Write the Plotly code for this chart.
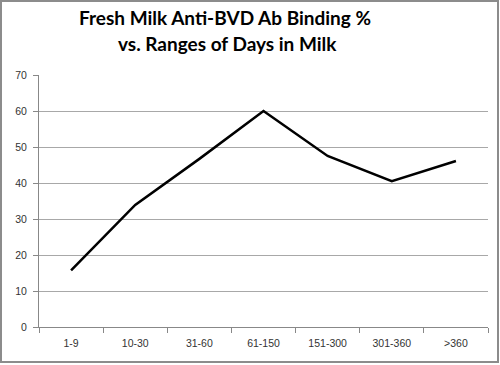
import plotly.graph_objects as go

categories = ["1-9", "10-30", "31-60", "61-150", "151-300", "301-360", ">360"]
binding_pct = [15.7, 33.9, 46.7, 60.0, 47.5, 40.5, 46.1]
title_lines = ["Fresh Milk Anti-BVD Ab Binding %", "vs. Ranges of Days in Milk"]

W, H = 500, 365
L, R, T, B = 39, 12, 75, 38
pw, ph = W - L - R, H - T - B

def px(x):
    return (x - L) / pw

def py(y):
    return (H - B - y) / ph

fig = go.Figure()
fig.add_trace(go.Scatter(
    x=categories, y=binding_pct, mode="lines",
    line=dict(color="black", width=2.5),
    showlegend=False, hoverinfo="skip",
))

fig.update_layout(
    width=W, height=H,
    margin=dict(l=L, r=R, t=T, b=B),
    paper_bgcolor="white", plot_bgcolor="white",
    font=dict(family="Liberation Sans", size=10.5, color="#333333"),
    xaxis=dict(
        type="category", range=[-0.5, 6.5],
        showgrid=False, showline=True, linecolor="#888888", linewidth=1,
        ticks="outside", ticklen=5, tickcolor="#888888", tickson="boundaries",
        ticklabelstandoff=6,
    ),
    yaxis=dict(
        range=[0, 70], dtick=10, showgrid=True, gridcolor="#a8a8a8", gridwidth=1,
        showline=True, linecolor="#888888", linewidth=1,
        ticks="outside", ticklen=5, tickcolor="#888888",
        zeroline=False, ticklabelstandoff=4,
    ),
    annotations=[
        dict(text="<b>" + title_lines[0] + "</b>", x=px(225), y=py(18), xref="paper", yref="paper",
             showarrow=False, xanchor="center", yanchor="middle",
             font=dict(family="Lato", size=19, color="black")),
        dict(text="<b>" + title_lines[1] + "</b>", x=px(227), y=py(43), xref="paper", yref="paper",
             showarrow=False, xanchor="center", yanchor="middle",
             font=dict(family="Lato", size=19, color="black")),
    ],
    shapes=[
        dict(type="rect", xref="paper", yref="paper",
             x0=px(1), x1=px(498), y0=py(362), y1=py(1),
             line=dict(color="#8c8c8c", width=2), fillcolor="rgba(0,0,0,0)", layer="below"),
    ],
)

fig.write_html("out.html", config={"displayModeBar": False, "staticPlot": True},
               post_script="document.body.style.margin='0';document.body.style.overflow='hidden';")
